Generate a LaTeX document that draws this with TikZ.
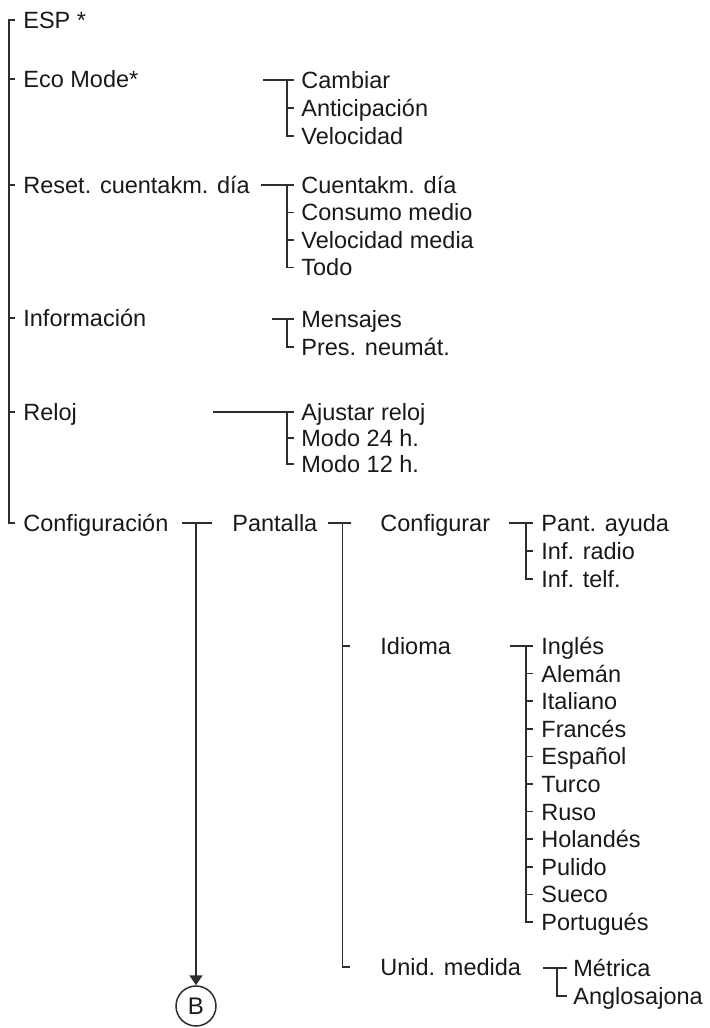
\documentclass[tikz,border=0pt]{standalone}
\usepackage{fontspec}
\setmainfont{Liberation Sans}
\usepackage{tikz}
\usetikzlibrary{arrows.meta, calc}
\definecolor{lineink}{RGB}{45, 45, 45}
\definecolor{textink}{RGB}{25, 25, 25}

\begin{document}
\begin{tikzpicture}[x=0.5pt, y=-0.5pt,
    item/.style={anchor=west, inner sep=0pt, text height=8.4pt, text depth=0pt,
        text=textink, font=\fontsize{11.75pt}{14pt}\selectfont},
    tree/.style={draw=lineink, line width=0.75pt}]
    \useasboundingbox (0,0) rectangle (709,1028);

    % menu principal
    \node[item] (esp)   at (23,20)  {ESP *};
    \node[item] (eco)   at (23,79)  {Eco Mode*};
    \node[item] (reset) at (23,185) {Reset. cuentakm. día};
    \node[item] (info)  at (23,318) {Información};
    \node[item] (reloj) at (23,412) {Reloj};
    \node[item] (conf)  at (23,523) {Configuración};

    \coordinate (trunk) at (9,0);
    \coordinate (tick) at (15,0);
    \draw[tree] (esp.west -| tick) -- (esp.west -| trunk) -- (conf.west -| trunk) -- (conf.west -| tick);
    \foreach \n in {eco, reset, info, reloj}
        \draw[tree] (\n.west -| trunk) -- (\n.west -| tick);

    % Eco Mode
    \node[item] (cambiar) at (301,80)  {Cambiar};
    \node[item] (antic)   at (301,108) {Anticipación};
    \node[item] (veloc)   at (301,136) {Velocidad};
    \draw[tree] ($(cambiar.west)+(-38,0)$) -- ($(cambiar.west)+(-7,0)$);
    \draw[tree] ($(cambiar.west)+(-14,0)$) |- ($(veloc.west)+(-7,0)$);
    \draw[tree] ($(antic.west)+(-14,0)$) -- ($(antic.west)+(-7,0)$);

    % Reset
    \node[item] (cuenta)  at (301,185)   {Cuentakm. día};
    \node[item] (consumo) at (301,212.5) {Consumo medio};
    \node[item] (velmed)  at (301,240)   {Velocidad media};
    \node[item] (todo)    at (301,267.5) {Todo};
    \draw[tree] ($(cuenta.west)+(-40,0)$) -- ($(cuenta.west)+(-7,0)$);
    \draw[tree] ($(cuenta.west)+(-14,0)$) |- ($(todo.west)+(-7,0)$);
    \foreach \n in {consumo, velmed}
        \draw[tree] ($(\n.west)+(-14,0)$) -- ($(\n.west)+(-7,0)$);

    % Informacion
    \node[item] (mensajes) at (301,319) {Mensajes};
    \node[item] (pres)     at (301,347) {Pres. neumát.};
    \draw[tree] ($(mensajes.west)+(-29,0)$) -- ($(mensajes.west)+(-7,0)$);
    \draw[tree] ($(mensajes.west)+(-14,0)$) |- ($(pres.west)+(-7,0)$);

    % Reloj
    \node[item] (ajustar) at (301,412) {Ajustar reloj};
    \node[item] (modoa)   at (301,438) {Modo 24 h.};
    \node[item] (modob)   at (301,464) {Modo 12 h.};
    \draw[tree] ($(ajustar.west)+(-88,0)$) -- ($(ajustar.west)+(-7,0)$);
    \draw[tree] ($(ajustar.west)+(-14,0)$) |- ($(modob.west)+(-7,0)$);
    \draw[tree] ($(modoa.west)+(-14,0)$) -- ($(modoa.west)+(-7,0)$);

    % Configuracion -> Pantalla
    \node[item] (pant) at (232,523) {Pantalla};
    \node[circle, draw=lineink, line width=0.75pt, minimum size=20pt, inner sep=0pt,
        text=textink, font=\fontsize{12pt}{14pt}\selectfont] (B) at (196,1006) {B};
    \draw[tree] ($(pant.west -| B)+(-14,0)$) -- ($(pant.west -| B)+(16,0)$);
    \draw[tree, -{Triangle[length=5pt, width=6.5pt]}] (pant.west -| B) -- (B);

    \node[item] (configurar) at (380,523) {Configurar};
    \node[item] (idioma)     at (380,646) {Idioma};
    \node[item] (unid)       at (380,967) {Unid. medida};
    \coordinate (ptrunk) at ($(pant.east)+(25,0)$);
    \draw[tree] ($(pant.east)+(10,0)$) -- ($(pant.east)+(33,0)$);
    \draw[tree] (ptrunk) |- ($(unid.west)+(-30,0)$);
    \draw[tree] (idioma.west -| ptrunk) -- ($(idioma.west)+(-30,0)$);

    % Configurar
    \node[item] (ayuda) at (541,523) {Pant. ayuda};
    \node[item] (radio) at (541,551) {Inf. radio};
    \node[item] (telf)  at (541,579) {Inf. telf.};
    \draw[tree] ($(ayuda.west)+(-32,0)$) -- ($(ayuda.west)+(-8,0)$);
    \draw[tree] ($(ayuda.west)+(-15,0)$) |- ($(telf.west)+(-8,0)$);
    \draw[tree] ($(radio.west)+(-15,0)$) -- ($(radio.west)+(-8,0)$);

    % Idioma
    \foreach \lang [count=\k from 0] in {Inglés, Alemán, Italiano, Francés, Español,
        Turco, Ruso, Holandés, Pulido, Sueco, Portugués}
        \node[item] (lang\k) at (541,{646+27.6*\k}) {\lang};
    \draw[tree] ($(lang0.west)+(-31,0)$) -- ($(lang0.west)+(-8,0)$);
    \draw[tree] ($(lang0.west)+(-15,0)$) |- ($(lang10.west)+(-8,0)$);
    \foreach \k in {1,...,9}
        \draw[tree] ($(lang\k.west)+(-15,0)$) -- ($(lang\k.west)+(-8,0)$);

    % Unid. medida
    \node[item] (metrica) at (573,968) {Métrica};
    \node[item] (anglo)   at (573,996) {Anglosajona};
    \draw[tree] ($(metrica.west)+(-30,0)$) -- ($(metrica.west)+(-6,0)$);
    \draw[tree] ($(metrica.west)+(-16,0)$) |- ($(anglo.west)+(-6,0)$);
\end{tikzpicture}
\end{document}
